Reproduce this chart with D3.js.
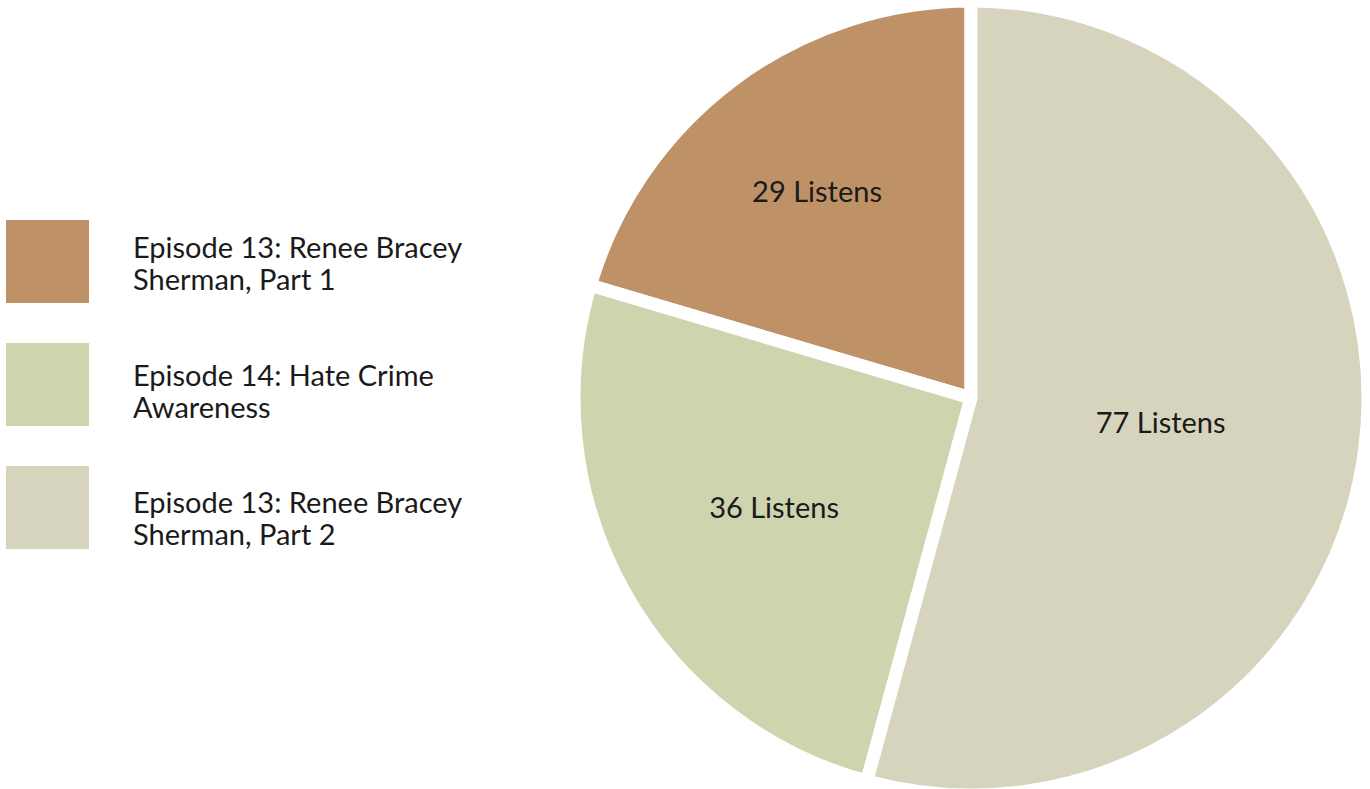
<!DOCTYPE html>
<html>
<head>
<meta charset="utf-8">
<script src="https://cdn.jsdelivr.net/npm/d3@7"></script>
<style>
  body { margin: 0; background: #fff; }
  text { font-family: Lato, "Open Sans", sans-serif; fill: #1a1a1a; }
</style>
</head>
<body>
<svg id="chart" width="1370" height="789"></svg>
<script>
// episodes, in legend order
const episodes = [
    ["Episode 13: Renee Bracey", "Sherman, Part 1"],
    ["Episode 14: Hate Crime", "Awareness"],
    ["Episode 13: Renee Bracey", "Sherman, Part 2"]
];
const listens = [29, 36, 77];
const colors = ["#bf9166", "#ced4ae", "#d7d4bd"];

// label distance from centre, as a share of the radius
const labelPos = [0.648, 0.568, 0.482];

const width = 1370,
    height = 789,
    cx = 971,
    cy = 398,
    radius = 397,
    fontSize = 29;

const svg = d3.select('#chart');

// drawn counter-clockwise from 12 o'clock
const pie = d3.pie()
    .sort(null)
    .value(d => d)
    .startAngle(2 * Math.PI)
    .endAngle(0);

const arc = d3.arc()
    .innerRadius(0)
    .outerRadius(radius);

const slices = pie(listens);

const g = svg.append('g')
    .attr('transform', 'translate(' + cx + ',' + cy + ')');

g.selectAll('path')
    .data(slices)
    .enter().append('path')
    .attr('d', arc)
    .attr('fill', (d, i) => colors[i])
    .attr('stroke', '#fff')
    .attr('stroke-width', 13)
    .attr('stroke-linejoin', 'miter');

g.selectAll('text.value')
    .data(slices)
    .enter().append('text')
    .attr('class', 'value')
    .attr('transform', (d, i) => {
        const r = radius * labelPos[i];
        const a = (d.startAngle + d.endAngle) / 2;
        return 'translate(' + (Math.sin(a) * r) + ',' + (-Math.cos(a) * r) + ')';
    })
    .attr('text-anchor', 'middle')
    .attr('dy', '0.35em')
    .style('font-size', fontSize + 'px')
    .text(d => d.data + ' Listens');

// legend
const legend = svg.append('g');

legend.selectAll('rect')
    .data(episodes)
    .enter().append('rect')
    .attr('x', 6)
    .attr('y', (d, i) => 220 + i * 123)
    .attr('width', 83)
    .attr('height', 83)
    .attr('fill', (d, i) => colors[i]);

const items = legend.selectAll('text')
    .data(episodes)
    .enter().append('text')
    .attr('x', 133)
    .attr('y', (d, i) => 258 + i * 127.5)
    .style('font-size', fontSize + 'px');

items.selectAll('tspan')
    .data(d => d)
    .enter().append('tspan')
    .attr('x', 133)
    .attr('dy', (d, i) => i === 0 ? 0 : 32)
    .text(d => d);
</script>
</body>
</html>
